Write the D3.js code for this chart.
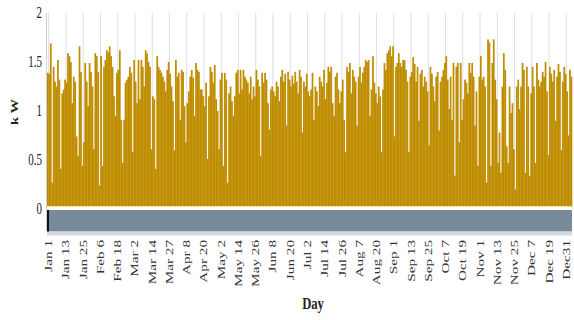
<!DOCTYPE html>
<html><head><meta charset="utf-8">
<script src="https://cdn.jsdelivr.net/npm/d3@7"></script>
<style>body{margin:0;background:#fff}svg{display:block}</style>
</head><body><svg id="c" width="574" height="320"></svg>
<script>
// Daily average power (kW), Jan 1 .. Dec 31
const dailyKW = [
1.39,1.38,1.69,0.27,1.45,1.30,1.25,1.52,1.32,0.41,
1.18,1.22,1.32,1.29,1.59,1.56,1.50,1.08,1.35,1.30,
0.74,0.54,1.66,1.40,0.44,0.68,1.49,1.30,1.05,1.49,
1.40,1.25,0.61,1.59,1.56,1.40,0.24,1.56,0.44,1.45,
1.52,1.62,1.60,1.66,1.56,1.45,1.15,0.95,1.39,1.42,
1.62,0.91,0.47,0.91,1.29,1.32,1.35,1.45,1.39,0.58,
1.52,1.30,1.08,1.52,1.12,1.52,1.45,1.25,1.62,1.59,
1.50,1.45,0.61,1.15,1.12,0.41,1.56,1.45,1.42,1.39,
1.35,1.30,1.20,1.42,1.50,1.38,1.25,1.10,0.60,1.52,1.35,1.39,
0.91,1.42,1.40,1.05,0.68,1.08,1.20,1.35,1.42,1.34,
0.95,1.49,1.42,1.40,1.22,1.22,1.15,1.05,1.29,0.51,
1.15,1.45,1.40,1.29,1.47,1.12,1.00,0.61,1.32,1.39,
0.44,1.39,1.32,0.27,1.18,1.25,1.10,0.95,1.15,1.39,
1.42,1.18,1.42,1.22,1.42,1.35,1.32,1.29,1.18,1.35,
1.12,1.25,1.15,1.42,1.32,1.25,0.54,1.39,1.29,1.39,
1.32,1.08,0.81,1.22,1.25,1.20,1.15,1.30,1.25,1.10,
1.35,1.42,1.30,1.38,0.85,1.40,1.32,1.25,1.36,1.28,
1.40,1.30,1.18,1.42,1.35,0.78,1.30,1.25,1.38,1.20,1.15,
1.22,1.39,0.91,1.25,1.20,1.05,1.35,1.30,1.25,1.42,
1.12,1.29,1.45,1.40,1.45,1.08,0.95,1.35,1.39,1.22,
1.08,1.20,1.32,0.91,0.58,1.45,1.40,1.49,1.18,1.42,
1.35,1.30,0.85,1.35,1.45,1.29,1.39,1.45,1.52,1.50,
1.52,0.95,1.22,1.56,1.29,1.18,1.08,1.25,1.15,0.58,
1.22,1.49,1.42,1.59,1.62,1.66,1.56,1.66,0.74,1.45,
1.49,1.59,1.49,1.45,1.52,1.52,1.42,1.30,0.58,1.35,
1.40,1.55,1.48,1.30,1.45,0.90,1.38,1.42,1.25,1.35,
1.30,1.20,0.65,1.45,1.38,1.25,1.10,1.35,1.40,0.80,1.30,1.35,
1.42,1.49,1.56,1.32,1.02,1.35,0.91,1.49,0.34,1.45,
1.49,0.68,1.49,0.91,1.12,1.32,1.29,1.18,1.49,1.39,
1.49,1.35,0.85,1.20,0.44,1.35,1.56,1.32,1.35,1.25,
0.27,1.73,1.70,0.44,1.49,1.73,1.32,1.12,0.47,0.78,
0.37,1.25,1.59,1.42,0.64,0.47,1.25,0.98,1.08,0.61,
0.20,1.25,1.32,1.02,1.25,1.49,1.42,0.37,1.45,1.25,
0.34,1.18,1.45,1.25,0.47,1.49,1.32,1.25,1.30,1.40,
1.35,1.50,1.20,0.55,1.45,1.38,1.30,1.42,0.90,1.35,
1.48,1.40,0.60,1.30,1.45,1.38,1.20,0.75,1.42,1.35
];
const negativeBand = -0.23;
const xTickLabels = ["Jan 1","Jan 13","Jan 25","Feb 6","Feb 18","Mar 2","Mar 14","Mar 27","Apr 8","Apr 20","May 2","May 14","May 26","Jun 8","Jun 20","Jul 2","Jul 14","Jul 26","Aug 7","Aug 20","Sep 1","Sep 13","Sep 25","Oct 7","Oct 19","Nov 1","Nov 13","Nov 25","Dec 7","Dec 19","Dec31"];
const yTickValues = [0,0.5,1,1.5,2];
const yTickLabels = ["0","0.5","1","1.5","2"];

(function () {
const svg = d3.select("#c");
const mLeft = 47, mRight = 572, mTop = 13, zeroY = 209;
const days = d3.range(dailyKW.length);
const x = d3.scaleBand().domain(days).range([mLeft, mRight]).paddingInner(0);
const y = d3.scaleLinear().domain([0, 2]).range([zeroY, mTop]);
const serif = "'Liberation Serif','DejaVu Serif',serif";

const xt = d3.scalePoint().domain(xTickLabels)
  .range([x(days[0]) + x.bandwidth()/2 + 1, x(days[days.length-1]) + x.bandwidth()/2 - 5]);

svg.append("g").selectAll("line").data(xTickLabels).join("line")
  .attr("x1", d => xt(d)).attr("x2", d => xt(d))
  .attr("y1", y(2)).attr("y2", y(0))
  .attr("stroke", "#dedee3").attr("stroke-width", 1);

svg.append("line").attr("x1", mLeft - 0.5).attr("x2", mLeft - 0.5)
  .attr("y1", y(2)).attr("y2", y(negativeBand))
  .attr("stroke", "#cfcfd4").attr("stroke-width", 1);

svg.append("g").selectAll("rect").data(dailyKW).join("rect")
  .attr("x", (d, i) => x(i)).attr("width", x.bandwidth() + 0.3)
  .attr("y", d => y(d)).attr("height", d => y(0) - y(d))
  .attr("fill", "#bf8d00");

svg.append("rect").attr("x", mLeft).attr("width", mRight - mLeft)
  .attr("y", y(0)).attr("height", y(negativeBand) - y(0))
  .attr("fill", "#798a9a");
svg.append("rect").attr("x", mLeft).attr("width", mRight - mLeft)
  .attr("y", y(negativeBand)).attr("height", 4)
  .attr("fill", "#d2d9e0");
svg.append("line").attr("x1", mLeft).attr("x2", mRight)
  .attr("y1", y(0) - 0.5).attr("y2", y(0) - 0.5)
  .attr("stroke", "#fff").attr("stroke-width", 3);
svg.append("line").attr("x1", mLeft).attr("x2", mRight)
  .attr("y1", y(0) - 2.5).attr("y2", y(0) - 2.5)
  .attr("stroke", "#f3e3a8").attr("stroke-width", 1);
svg.append("line").attr("x1", mLeft + 1).attr("x2", mLeft + 1)
  .attr("y1", y(0) + 1).attr("y2", y(negativeBand))
  .attr("stroke", "#111").attr("stroke-width", 2);

svg.append("g").selectAll("text").data(yTickValues).join("text")
  .attr("transform", d => `translate(42,${y(d) + 5}) scale(1,1.45)`)
  .attr("text-anchor", "end").attr("font-family", serif)
  .attr("font-size", 11).attr("fill", "#222")
  .text((d, i) => yTickLabels[i]);

svg.append("g").selectAll("text").data(xTickLabels).join("text")
  .attr("transform", d => `translate(${xt(d) + 3.5},240) rotate(-90) scale(1.45,1)`)
  .attr("text-anchor", "end").attr("font-family", serif)
  .attr("font-size", 10.5).attr("fill", "#333")
  .text(d => d);

svg.append("text").attr("transform", "translate(18,112) rotate(-90) scale(1.45,1)")
  .attr("text-anchor", "middle").attr("font-family", serif)
  .attr("font-size", 10).attr("font-weight", "bold").attr("fill", "#222")
  .text("k W");
svg.append("text").attr("transform", "translate(313,309) scale(1.15,1.45)")
  .attr("text-anchor", "middle").attr("font-family", serif)
  .attr("font-size", 11).attr("font-weight", "bold").attr("fill", "#222")
  .text("Day");
})();
</script></body></html>
